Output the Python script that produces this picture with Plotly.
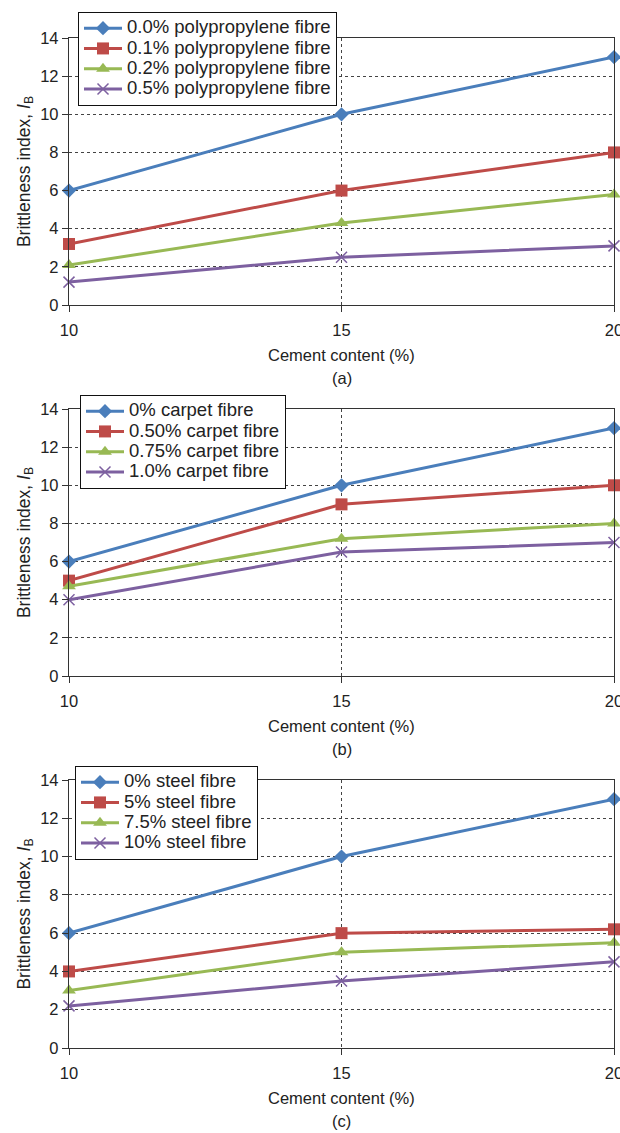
import plotly.graph_objects as go

cement = [10, 15, 20]

pp_names = ["0.0% polypropylene fibre", "0.1% polypropylene fibre",
            "0.2% polypropylene fibre", "0.5% polypropylene fibre"]
pp_0 = [6, 10, 13]
pp_01 = [3.2, 6, 8]
pp_02 = [2.1, 4.3, 5.8]
pp_05 = [1.2, 2.5, 3.1]

cp_names = ["0% carpet fibre", "0.50% carpet fibre", "0.75% carpet fibre", "1.0% carpet fibre"]
cp_0 = [6, 10, 13]
cp_050 = [5, 9, 10]
cp_075 = [4.7, 7.2, 8]
cp_10 = [4, 6.5, 7]

st_names = ["0% steel fibre", "5% steel fibre", "7.5% steel fibre", "10% steel fibre"]
st_0 = [6, 10, 13]
st_5 = [4, 6, 6.2]
st_75 = [3, 5, 5.5]
st_10 = [2.2, 3.5, 4.5]

panel_labels = ["(a)", "(b)", "(c)"]
x_title = "Cement content (%)"
y_title = "Brittleness index, <i>I</i><sub>B</sub>"

colors = ["#4A7EBB", "#BE4B48", "#98B954", "#7D60A0"]
symbols = ["diamond", "square", "triangle-up", "x-thin"]
sizes = [11, 12, 12, 11]

W, H = 620, 1133
ML, MR = 69, 6
panels_px = [(38, 305), (409, 676), (780, 1048)]
legend_px = [(78, 12), (80, 395), (75, 766)]

FONT = "Liberation Sans, Arial, sans-serif"
TXT = "#222222"

fig = go.Figure()
groups = [
    (pp_names, [pp_0, pp_01, pp_02, pp_05]),
    (cp_names, [cp_0, cp_050, cp_075, cp_10]),
    (st_names, [st_0, st_5, st_75, st_10]),
]

pw = W - ML - MR
for p, (names, series) in enumerate(groups):
    xa = "x" if p == 0 else f"x{p+1}"
    ya = "y" if p == 0 else f"y{p+1}"
    lg = "legend" if p == 0 else f"legend{p+1}"
    for i, (nm, vals) in enumerate(zip(names, series)):
        mk = dict(symbol=symbols[i], size=sizes[i], color=colors[i])
        if symbols[i] == "x-thin":
            mk["line"] = dict(color=colors[i], width=1.5)
        fig.add_trace(go.Scatter(
            x=cement, y=vals, name=f'<span style="font-size:18.5px">{nm}</span>',
            mode="lines+markers",
            line=dict(color=colors[i], width=3), marker=mk,
            xaxis=xa, yaxis=ya, legend=lg, cliponaxis=False))

    top, bot = panels_px[p]
    dom = [1 - bot / H, 1 - top / H]
    axis_common = dict(showline=True, linecolor="#333333", linewidth=1.3, mirror=True,
                       ticks="outside", ticklen=6, tickcolor="#333333",
                       tickfont=dict(family=FONT, size=16.5, color=TXT),
                       showgrid=True, gridcolor="#444444", griddash="dot", gridwidth=1,
                       zeroline=False, automargin=False)
    xkey = "xaxis" if p == 0 else f"xaxis{p+1}"
    ykey = "yaxis" if p == 0 else f"yaxis{p+1}"
    fig.update_layout(**{
        xkey: dict(axis_common, domain=[0, 1], range=[10, 20], tickvals=cement,
                   anchor=ya, ticklabeloverflow="allow", ticklabelstandoff=4),
        ykey: dict(axis_common, domain=dom, range=[0, 14], tickvals=list(range(0, 15, 2)),
                   anchor=xa,
                   title=dict(text=y_title, font=dict(family=FONT, size=17.5, color=TXT),
                              standoff=5)),
    })
    lx, ly = legend_px[p]
    fig.update_layout(**{lg: dict(
        x=(lx - ML) / pw, y=1 - ly / H, xanchor="left", yanchor="top",
        bgcolor="white", bordercolor="#111111", borderwidth=1,
        font=dict(family=FONT, size=13.3, color=TXT),
        tracegroupgap=0, itemwidth=38)})

    fig.add_annotation(text=x_title, xref="paper", yref="paper",
                       x=0.5, y=1 - (bot + 50) / H, showarrow=False,
                       xanchor="center", yanchor="middle",
                       font=dict(family=FONT, size=16.5, color=TXT))
    fig.add_annotation(text=panel_labels[p], xref="paper", yref="paper",
                       x=0.5, y=1 - (bot + 73) / H, showarrow=False,
                       xanchor="center", yanchor="middle",
                       font=dict(family=FONT, size=16.5, color=TXT))

fig.update_layout(width=W, height=H, margin=dict(l=ML, r=MR, t=0, b=0, autoexpand=False),
                  plot_bgcolor="white", paper_bgcolor="white", showlegend=True)

fig.write_html("out.html")
